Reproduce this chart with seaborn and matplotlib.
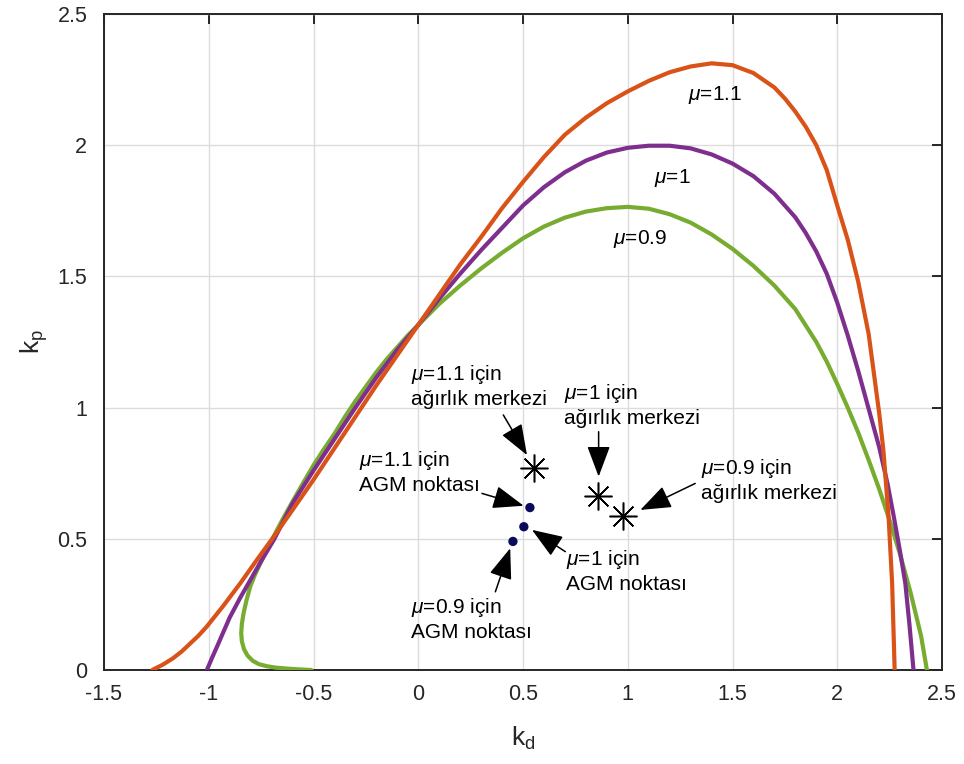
import numpy as np
import pandas as pd
import matplotlib
matplotlib.use("Agg")
import matplotlib.pyplot as plt
import seaborn as sns

# ---- data ----
kd_mu11 = [-1.27, -1.22, -1.17, -1.13, -1.09, -1.05, -1.01, -0.93, -0.85, -0.77, -0.69, -0.6, -0.5,
           -0.4, -0.3, -0.2, -0.1, 0.0, 0.1, 0.2, 0.3, 0.4, 0.5, 0.6, 0.7, 0.8, 0.9, 1.0, 1.1, 1.2,
           1.3, 1.4, 1.5, 1.6, 1.7, 1.75, 1.8, 1.85, 1.9, 1.95, 2.0, 2.05, 2.1, 2.15, 2.2, 2.22,
           2.245, 2.262, 2.274]
kp_mu11 = [0.0, 0.02, 0.045, 0.07, 0.1, 0.13, 0.165, 0.245, 0.33, 0.42, 0.508, 0.61, 0.725,
           0.845, 0.965, 1.085, 1.2, 1.315, 1.43, 1.545, 1.65, 1.76, 1.86, 1.955, 2.04, 2.105, 2.16,
           2.205, 2.245, 2.278, 2.30, 2.312, 2.305, 2.275, 2.22, 2.178, 2.128, 2.07, 2.0, 1.905,
           1.77, 1.64, 1.48, 1.28, 0.98, 0.84, 0.584, 0.33, 0.0]

kd_mu10 = [-1.009, -0.985, -0.96, -0.93, -0.9, -0.85, -0.8, -0.75, -0.69, -0.6, -0.5, -0.4, -0.3,
           -0.2, -0.1, 0.0, 0.1, 0.2, 0.3, 0.4, 0.5, 0.6, 0.7, 0.8, 0.9, 1.0, 1.1, 1.2, 1.3, 1.4, 1.5,
           1.6, 1.7, 1.8, 1.85, 1.9, 1.95, 2.0, 2.05, 2.1, 2.15, 2.2, 2.24, 2.27, 2.3, 2.325, 2.345, 2.364]
kp_mu10 = [0.0, 0.045, 0.09, 0.145, 0.2, 0.275, 0.345, 0.415, 0.495, 0.635, 0.76, 0.88, 1.0,
           1.115, 1.22, 1.315, 1.415, 1.51, 1.60, 1.685, 1.77, 1.84, 1.897, 1.941, 1.972, 1.99,
           1.998, 1.998, 1.988, 1.965, 1.93, 1.882, 1.815, 1.725, 1.665, 1.595, 1.51, 1.40, 1.275,
           1.14, 0.995, 0.85, 0.71, 0.584, 0.45, 0.33, 0.17, 0.0]

kd_mu09 = [-0.51, -0.56, -0.62, -0.68, -0.72, -0.76, -0.79, -0.815, -0.832, -0.842, -0.845, -0.842,
           -0.834, -0.82, -0.802, -0.78, -0.754, -0.715, -0.674, -0.64, -0.6, -0.55, -0.5, -0.45,
           -0.4, -0.35, -0.3, -0.25, -0.2, -0.15, -0.1, -0.05, 0.0, 0.1, 0.2, 0.3, 0.4, 0.5, 0.6,
           0.7, 0.8, 0.9, 1.0, 1.1, 1.2, 1.3, 1.4, 1.5, 1.6, 1.7, 1.8, 1.9, 1.95, 2.0, 2.05, 2.1,
           2.15, 2.2, 2.25, 2.3, 2.35, 2.4, 2.428]
kp_mu09 = [0.0, 0.002, 0.005, 0.009, 0.014, 0.022, 0.035, 0.055, 0.08, 0.11, 0.14, 0.175,
           0.216, 0.265, 0.318, 0.362, 0.406, 0.47, 0.534, 0.585, 0.642, 0.712, 0.78, 0.842,
           0.90, 0.965, 1.025, 1.08, 1.135, 1.185, 1.23, 1.275, 1.315, 1.395, 1.465, 1.53, 1.59,
           1.645, 1.69, 1.724, 1.747, 1.76, 1.765, 1.758, 1.737, 1.705, 1.66, 1.605, 1.54, 1.465,
           1.375, 1.25, 1.175, 1.09, 1.0, 0.905, 0.80, 0.69, 0.57, 0.44, 0.295, 0.13, 0.0]

# centroid (agirlik merkezi) points and AGM points, order: mu=1.1, 1, 0.9
centroid_kd = [0.551, 0.856, 0.977]
centroid_kp = [0.771, 0.664, 0.587]
agm_kd = [0.533, 0.504, 0.452]
agm_kp = [0.619, 0.546, 0.490]

xticks = [-1.5, -1, -0.5, 0, 0.5, 1, 1.5, 2, 2.5]
xticklabels = ["-1.5", "-1", "-0.5", "0", "0.5", "1", "1.5", "2", "2.5"]
yticks = [0, 0.5, 1, 1.5, 2, 2.5]
yticklabels = ["0", "0.5", "1", "1.5", "2", "2.5"]

colors = {"1.1": "#D95319", "1": "#7E2F8E", "0.9": "#77AC30"}

# ---- style ----
sns.set_theme(style="white")
plt.rcParams["font.family"] = ["Liberation Sans", "DejaVu Sans"]
plt.rcParams["axes.unicode_minus"] = False
plt.rcParams["mathtext.fontset"] = "custom"
plt.rcParams["mathtext.rm"] = "Liberation Sans"
plt.rcParams["mathtext.it"] = "Liberation Sans:italic"

fig = plt.figure(figsize=(9.64, 7.64), dpi=100)
ax = fig.add_axes([104 / 964, 94 / 764, 838 / 964, 656 / 764])

dark = "#262626"

for name, kd, kp in [("0.9", kd_mu09, kp_mu09), ("1", kd_mu10, kp_mu10), ("1.1", kd_mu11, kp_mu11)]:
    df = pd.DataFrame({"kd": kd, "kp": kp})
    sns.lineplot(data=df, x="kd", y="kp", sort=False, estimator=None, ax=ax,
                 color=colors[name], linewidth=3.0, zorder=3)

ax.plot(centroid_kd, centroid_kp, linestyle="none", marker=(8, 2, 0), markersize=20,
        markeredgewidth=1.1, color="black", zorder=5)
sns.scatterplot(x=agm_kd, y=agm_kp, ax=ax, color="#0b0b5c", s=45, edgecolor="none", zorder=5)

ax.set_xlim(-1.5, 2.5)
ax.set_ylim(0, 2.5)
ax.set_xticks(xticks)
ax.set_xticklabels(xticklabels)
ax.set_yticks(yticks)
ax.set_yticklabels(yticklabels)
ax.grid(True, color="#dcdcdc", linewidth=1.0)
ax.set_axisbelow(True)
for s in ax.spines.values():
    s.set_color(dark)
    s.set_linewidth(1.4)
ax.tick_params(direction="in", length=7, width=1.4, colors=dark, labelsize=15.5,
               top=True, right=True)
ax.tick_params(axis="x", pad=10)
ax.tick_params(axis="y", pad=12)
for lab in ax.get_xticklabels() + ax.get_yticklabels():
    lab.set_color(dark)

ax.set_xlabel(r"$\mathrm{k}_\mathrm{d}$", fontsize=19, color=dark, labelpad=14)
ax.set_ylabel(r"$\mathrm{k}_\mathrm{p}$", fontsize=19, color=dark, labelpad=5)

fs = 15
ax.text(1.415, 2.191, r"$\mu$=1.1", fontsize=fs, ha="center", va="center", color="black")
ax.text(1.215, 1.874, r"$\mu$=1", fontsize=fs, ha="center", va="center", color="black")
ax.text(1.06, 1.641, r"$\mu$=0.9", fontsize=fs, ha="center", va="center", color="black")

arrow_kw = dict(arrowstyle="-|>,head_length=1.6,head_width=0.6", color="black", lw=1.1,
                shrinkA=0, shrinkB=0)

def note(text, tx, ty, x0, y0, x1, y1):
    ax.text(tx, ty, text, fontsize=fs, ha="left", va="center", color="black", linespacing=1.25)
    ax.annotate("", xy=(x1, y1), xytext=(x0, y0), arrowprops=arrow_kw)

def px2d(px, py):
    return (px - 418) / 209.5, (670 - py) / 262.4

t = px2d(411, 386)
note("$\\mu$=1.1 için\nağırlık merkezi", t[0], t[1], 0.406, 0.972, 0.519, 0.819)
t = px2d(564, 405)
note("$\\mu$=1 için\nağırlık merkezi", t[0], t[1], 0.861, 0.908, 0.861, 0.737)
t = px2d(701, 480)
note("$\\mu$=0.9 için\nağırlık merkezi", t[0], t[1], 1.322, 0.711, 1.060, 0.610)
t = px2d(359, 472)
note("$\\mu$=1.1 için\nAGM noktası", t[0], t[1], 0.304, 0.673, 0.503, 0.626)
t = px2d(566, 571)
note("$\\mu$=1 için\nAGM noktası", t[0], t[1], 0.702, 0.451, 0.543, 0.534)
t = px2d(411, 619)
note("$\\mu$=0.9 için\nAGM noktası", t[0], t[1], 0.368, 0.298, 0.439, 0.464)

fig.savefig("out.png", dpi=100)
